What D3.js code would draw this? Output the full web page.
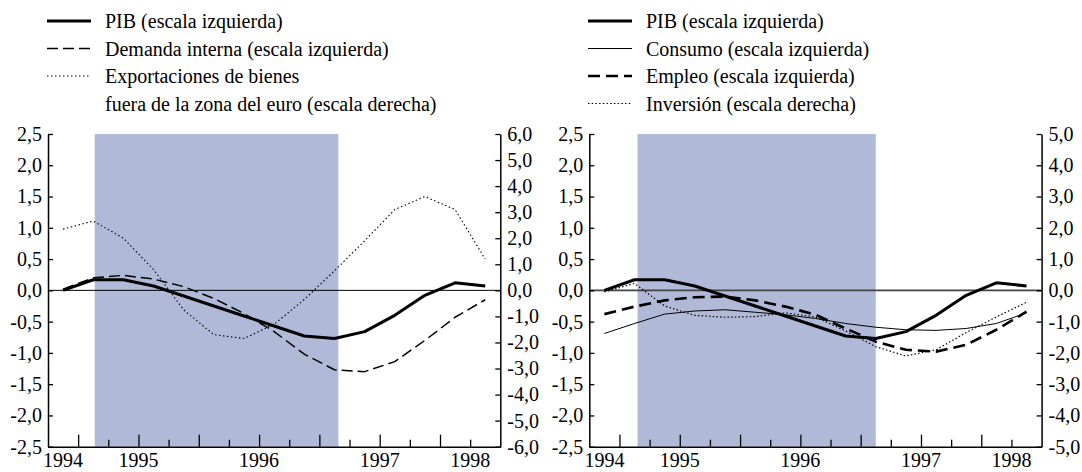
<!DOCTYPE html>
<html lang="es">
<head>
<meta charset="utf-8">
<title>PIB y componentes</title>
<script src="https://d3js.org/d3.v7.min.js"></script>
<style>
  body { margin: 0; background: #fff; }
  svg { display: block; font-family: "Liberation Serif", "Times New Roman", serif; }
  .tick text { font-size: 20px; fill: #000; font-family: "Liberation Serif", "Times New Roman", serif; }
</style>
</head>
<body>
<div id="chart"></div>
<script>
// quarterly points, plotted at the middle of each quarter slot
var quarters = d3.range(15).map(function(i) { return i + 0.5; });

// left panel
var pib = [0.0, 0.17, 0.17, 0.07, -0.09, -0.25, -0.41, -0.57, -0.73, -0.77, -0.66, -0.40, -0.08, 0.12, 0.07];
var demandaInterna = [0.02, 0.20, 0.24, 0.18, 0.06, -0.13, -0.37, -0.66, -1.02, -1.27, -1.30, -1.14, -0.80, -0.43, -0.15];
var exportaciones = [2.35, 2.66, 2.0, 0.8, -0.75, -1.7, -1.85, -1.3, -0.35, 0.75, 1.9, 3.1, 3.6, 3.1, 1.2];

// right panel
var consumo = [-0.69, -0.53, -0.38, -0.33, -0.31, -0.35, -0.39, -0.45, -0.53, -0.59, -0.63, -0.64, -0.61, -0.53, -0.36];
var empleo = [-0.38, -0.26, -0.16, -0.11, -0.10, -0.16, -0.26, -0.39, -0.61, -0.82, -0.95, -0.98, -0.87, -0.63, -0.34];
var inversion = [-0.05, 0.22, -0.5, -0.8, -0.86, -0.84, -0.72, -0.85, -1.3, -1.8, -2.1, -1.9, -1.35, -0.85, -0.38];

var leftTicks = [2.5, 2.0, 1.5, 1.0, 0.5, 0.0, -0.5, -1.0, -1.5, -2.0, -2.5];
var rightTicksA = [6, 5, 4, 3, 2, 1, 0, -1, -2, -3, -4, -5, -6];
var rightTicksB = [5, 4, 3, 2, 1, 0, -1, -2, -3, -4, -5];
var years = ["1994", "1995", "1996", "1997", "1998"];
var yearPos = [0.5, 3, 7, 11, 14];
var shadeA = [1.55, 9.63];
var shadeB = [1.6, 9.5];

var W = 1082, H = 472;
var TOP = 134, BOTTOM = 446.7, PW = 452.3;

var svg = d3.select("#chart").append("svg")
    .attr("width", W)
    .attr("height", H);

function fmt(v) {
    return (+v).toFixed(1).replace(".", ",");
}

var styles = {
    pib:    { width: 3,   dash: null },
    demanda:{ width: 1.5, dash: "11,5" },
    export: { width: 1.1, dash: "1.5,2.5" },
    consumo:{ width: 1,   dash: null },
    empleo: { width: 2.6, dash: "12,6" },
    invers: { width: 1.2, dash: "1.5,2.2" }
};

function panel(left, rmax, rTicks, shade, series, zeroColor) {
    var g = svg.append("g");
    var x = d3.scaleLinear().domain([0, 15]).range([left, left + PW]);
    var yL = d3.scaleLinear().domain([-2.5, 2.5]).range([BOTTOM, TOP]);
    var yR = d3.scaleLinear().domain([-rmax, rmax]).range([BOTTOM, TOP]);

    g.append("rect")
        .attr("x", x(shade[0]))
        .attr("y", TOP)
        .attr("width", x(shade[1]) - x(shade[0]))
        .attr("height", BOTTOM - TOP)
        .attr("fill", "#b1b9d9");

    g.append("line")
        .attr("x1", x(0)).attr("x2", x(15))
        .attr("y1", yL(0)).attr("y2", yL(0))
        .attr("stroke", zeroColor)
        .attr("stroke-width", zeroColor == "#000" ? 1 : 1.6);

    series.forEach(function(s) {
        var y = s.right ? yR : yL;
        var line = d3.line()
            .x(function(d, i) { return x(quarters[i]); })
            .y(function(d) { return y(d); });
        g.append("path")
            .datum(s.values)
            .attr("d", line)
            .attr("fill", "none")
            .attr("stroke", "#000")
            .attr("stroke-width", s.style.width)
            .attr("stroke-dasharray", s.style.dash)
            .attr("stroke-linejoin", "round");
    });

    // axes
    var ax = g.append("g").attr("transform", "translate(" + x(0) + ",0)")
        .call(d3.axisLeft(yL).tickValues(leftTicks).tickSize(-5).tickSizeOuter(0)
            .tickPadding(6).tickFormat(fmt));
    var axR = g.append("g").attr("transform", "translate(" + x(15) + ",0)")
        .call(d3.axisRight(yR).tickValues(rTicks).tickSize(-5).tickSizeOuter(0)
            .tickPadding(7).tickFormat(fmt));
    var axB = g.append("g").attr("transform", "translate(0," + BOTTOM + ")")
        .call(d3.axisBottom(x).tickValues(d3.range(1, 15)).tickSize(-7).tickSizeOuter(0)
            .tickFormat(""));
    axB.selectAll(".tick line")
        .attr("y2", function(d) { return d % 2 == 1 ? -12 : -7; });

    [ax, axR, axB].forEach(function(a) {
        a.select(".domain").attr("stroke-width", 1.5);
        a.selectAll(".tick line").attr("stroke-width", 1.3);
    });

    g.selectAll(".year")
        .data(years)
        .enter().append("text")
        .attr("x", function(d, i) { return x(yearPos[i]); })
        .attr("y", 467)
        .attr("text-anchor", "middle")
        .attr("font-size", 20)
        .text(function(d) { return d; });
}

panel(48, 6, rightTicksA, shadeA, [
    { values: exportaciones, style: styles.export, right: true },
    { values: demandaInterna, style: styles.demanda },
    { values: pib, style: styles.pib }
], "#000");

panel(589.3, 5, rightTicksB, shadeB, [
    { values: inversion, style: styles.invers, right: true },
    { values: consumo, style: styles.consumo },
    { values: empleo, style: styles.empleo },
    { values: pib, style: styles.pib }
], "#444");

// legends
function legend(lx, tx, rows) {
    var rowY = [21, 48.5, 76, 103.5];
    rows.forEach(function(r, i) {
        if (r.style) {
            svg.append("line")
                .attr("x1", lx).attr("x2", lx + 44)
                .attr("y1", rowY[i]).attr("y2", rowY[i])
                .attr("stroke", "#000")
                .attr("stroke-width", r.style.width)
                .attr("stroke-dasharray", r.style.dash);
        }
        svg.append("text")
            .attr("x", tx)
            .attr("y", rowY[i])
            .attr("dy", "0.35em")
            .attr("font-size", 20)
            .text(r.label);
    });
}

legend(47, 105, [
    { label: "PIB (escala izquierda)", style: styles.pib },
    { label: "Demanda interna (escala izquierda)", style: styles.demanda },
    { label: "Exportaciones de bienes", style: styles.export },
    { label: "fuera de la zona del euro (escala derecha)" }
]);

legend(588, 646, [
    { label: "PIB (escala izquierda)", style: styles.pib },
    { label: "Consumo (escala izquierda)", style: styles.consumo },
    { label: "Empleo (escala izquierda)", style: styles.empleo },
    { label: "Inversión (escala derecha)", style: styles.invers }
]);
</script>
</body>
</html>
